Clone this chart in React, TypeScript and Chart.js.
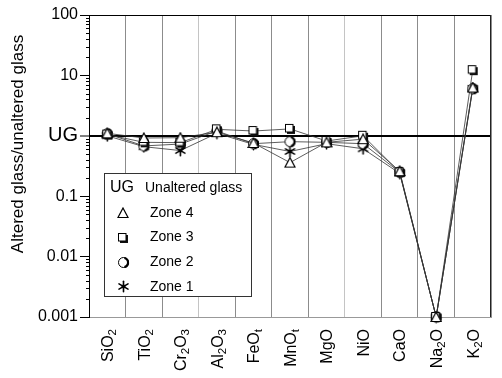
import React, { useEffect, useRef } from 'react';
import { Chart, registerables } from 'chart.js';

Chart.register(...registerables);

// ---------- data ----------
const categories = ['SiO2', 'TiO2', 'Cr2O3', 'Al2O3', 'FeOt', 'MnOt', 'MgO', 'NiO', 'CaO', 'Na2O', 'K2O'];
const zone4 = [1.1, 0.92, 0.93, 1.15, 0.76, 0.36, 0.78, 0.88, 0.26, 0.001, 6.3];
const zone3 = [1.05, 0.78, 0.77, 1.28, 1.2, 1.3, 0.82, 1.0, 0.25, 0.001, 12.2];
const zone2 = [1.08, 0.68, 0.73, 1.2, 0.74, 0.8, 0.78, 0.74, 0.25, 0.001, 6.0];
const zone1 = [1.0, 0.66, 0.57, 1.1, 0.72, 0.55, 0.74, 0.61, 0.24, 0.001, 6.1];
const seriesLabels = ['Zone 4', 'Zone 3', 'Zone 2', 'Zone 1'];
const yTickValues = [0.001, 0.01, 0.1, 1, 10, 100];
const yTickLabels = ['0.001', '0.01', '0.1', 'UG', '10', '100'];
const legendHeader = ['UG', 'Unaltered glass'];
const yTitle = 'Altered glass/unaltered glass';

const FONT = '"Liberation Sans", Arial, Helvetica, sans-serif';

// ---------- marker images ----------
function makeCanvas(w: number, h: number, draw: (g: CanvasRenderingContext2D) => void) {
  const c = document.createElement('canvas');
  c.width = w;
  c.height = h;
  const g = c.getContext('2d')!;
  draw(g);
  return c;
}

function triangleMarker() {
  return makeCanvas(12, 12, (g) => {
    g.beginPath();
    g.moveTo(6, 1);
    g.lineTo(11, 10.5);
    g.lineTo(1, 10.5);
    g.closePath();
    g.fillStyle = '#fff';
    g.fill();
    g.strokeStyle = '#000';
    g.lineWidth = 1.2;
    g.stroke();
  });
}

function squareMarker() {
  return makeCanvas(12, 12, (g) => {
    g.fillStyle = '#111';
    g.fillRect(3, 3, 8, 8);
    g.fillStyle = '#fff';
    g.fillRect(1.5, 1.5, 7.5, 7.5);
    g.strokeStyle = '#000';
    g.lineWidth = 1;
    g.strokeRect(1.5, 1.5, 7.5, 7.5);
  });
}

function circleMarker() {
  return makeCanvas(13, 13, (g) => {
    g.beginPath();
    g.arc(6.5, 6.5, 5, 0, Math.PI * 2);
    g.fillStyle = '#fff';
    g.fill();
    g.strokeStyle = '#000';
    g.lineWidth = 1;
    g.stroke();
    g.beginPath();
    g.arc(6.5, 6.5, 4.6, -Math.PI / 2 + 0.2, Math.PI / 2 - 0.2);
    g.lineWidth = 2.2;
    g.stroke();
  });
}

function starMarker() {
  return makeCanvas(13, 13, (g) => {
    g.strokeStyle = '#000';
    g.lineWidth = 1.6;
    g.lineCap = 'round';
    for (let k = 0; k < 3; k++) {
      const a = Math.PI / 2 + (k * Math.PI) / 3;
      g.beginPath();
      g.moveTo(6.5 + Math.cos(a) * 5.2, 6.5 + Math.sin(a) * 5.2);
      g.lineTo(6.5 - Math.cos(a) * 5.2, 6.5 - Math.sin(a) * 5.2);
      g.stroke();
    }
    g.beginPath();
    g.arc(6.5, 6.5, 2, 0, Math.PI * 2);
    g.fillStyle = '#000';
    g.fill();
  });
}

function splitLabel(lab: string) {
  const parts: { t: string; sub: boolean }[] = [];
  for (let i = 0; i < lab.length; i++) {
    const ch = lab[i];
    const sub = /[0-9]/.test(ch) || (ch === 't' && i === lab.length - 1);
    const last = parts[parts.length - 1];
    if (last && last.sub === sub) last.t += ch;
    else parts.push({ t: ch, sub });
  }
  return parts;
}

const decorPlugin = {
  id: 'decor',
  afterDraw(chart: any) {
    const ctx: CanvasRenderingContext2D = chart.ctx;
    const area = chart.chartArea;
    const ys = chart.scales.y;
    const xs = chart.scales.x;
    ctx.save();

    // top & right frame
    ctx.strokeStyle = '#000';
    ctx.lineWidth = 1;
    ctx.beginPath();
    ctx.moveTo(area.left, Math.round(area.top) + 0.5);
    ctx.lineTo(area.right, Math.round(area.top) + 0.5);
    ctx.stroke();
    ctx.strokeStyle = '#222';
    ctx.beginPath();
    ctx.moveTo(Math.round(area.right) - 0.5, area.top);
    ctx.lineTo(Math.round(area.right) - 0.5, area.bottom);
    ctx.stroke();

    // minor y ticks
    ctx.strokeStyle = '#000';
    for (let d = -3; d < 2; d++) {
      for (let k = 2; k < 10; k++) {
        const v = k * Math.pow(10, d);
        const y = Math.round(ys.getPixelForValue(v)) + 0.5;
        ctx.beginPath();
        ctx.moveTo(area.left - 3, y);
        ctx.lineTo(area.left, y);
        ctx.stroke();
      }
    }

    // y title
    ctx.fillStyle = '#000';
    ctx.font = `17px ${FONT}`;
    ctx.textAlign = 'center';
    ctx.textBaseline = 'middle';
    ctx.translate(18, 144);
    ctx.rotate(-Math.PI / 2);
    ctx.fillText(yTitle, 0, 0);
    ctx.setTransform(1, 0, 0, 1, 0, 0);

    // x category labels with subscripts
    const mainFont = `16px ${FONT}`;
    const subFont = `11.5px ${FONT}`;
    categories.forEach((lab, i) => {
      const x = xs.getPixelForValue(i);
      const parts = splitLabel(lab);
      ctx.save();
      ctx.translate(x, area.bottom + 12);
      ctx.rotate(-Math.PI / 2);
      ctx.textAlign = 'left';
      ctx.textBaseline = 'alphabetic';
      let total = 0;
      parts.forEach((p) => {
        ctx.font = p.sub ? subFont : mainFont;
        total += ctx.measureText(p.t).width;
      });
      let cx = -total;
      parts.forEach((p) => {
        ctx.font = p.sub ? subFont : mainFont;
        ctx.fillText(p.t, cx, p.sub ? 9 : 5.8);
        cx += ctx.measureText(p.t).width;
      });
      ctx.restore();
    });

    // legend box
    const bx = 104.5, by = 173.5, bw = 147, bh = 123;
    ctx.fillStyle = '#fff';
    ctx.fillRect(bx, by, bw, bh);
    ctx.strokeStyle = '#333';
    ctx.lineWidth = 1;
    ctx.strokeRect(bx, by, bw, bh);
    ctx.fillStyle = '#000';
    ctx.textAlign = 'left';
    ctx.textBaseline = 'middle';
    ctx.font = `16px ${FONT}`;
    ctx.fillText(legendHeader[0], 110, 188);
    ctx.font = `14px ${FONT}`;
    ctx.fillText(legendHeader[1], 145, 188);
    chart.data.datasets.forEach((ds: any, i: number) => {
      const y = 213 + i * 24.6;
      const img = ds.pointStyle as HTMLCanvasElement;
      ctx.drawImage(img, Math.round(123 - img.width / 2), Math.round(y - img.height / 2));
      ctx.font = `14px ${FONT}`;
      ctx.fillText(ds.label, 150, y);
    });

    ctx.restore();
  },
};

export default function App() {
  const ref = useRef<HTMLCanvasElement>(null);

  useEffect(() => {
    const canvas = ref.current;
    if (!canvas) return;
    const markers = [triangleMarker(), squareMarker(), circleMarker(), starMarker()];
    const series = [zone4, zone3, zone2, zone1];
    const datasets = series.map((data, i) => ({
      label: seriesLabels[i],
      data,
      borderColor: '#333',
      borderWidth: 0.8,
      pointStyle: markers[i],
      pointRadius: 5,
      backgroundColor: '#fff',
      fill: false,
      tension: 0,
      clip: false as any,
    }));

    const chart = new Chart(canvas, {
      type: 'line',
      data: { labels: categories, datasets },
      options: {
        animation: false,
        responsive: false,
        devicePixelRatio: 1,
        layout: { padding: { top: 15, right: 11, left: 0, bottom: 0 } },
        plugins: { legend: { display: false }, tooltip: { enabled: false } },
        scales: {
          x: {
            type: 'category',
            offset: true,
            afterFit: (s: any) => {
              s.height = 61;
            },
            grid: {
              offset: true,
              drawTicks: false,
              color: (c: any) => (c.index === 3 || c.index === 7 ? '#c4c4c4' : '#8c8c8c'),
              lineWidth: 1,
            },
            border: { color: '#999', width: 1 },
            ticks: { display: false },
          },
          y: {
            type: 'logarithmic',
            min: 0.001,
            max: 100,
            afterFit: (s: any) => {
              s.width = 89;
            },
            afterBuildTicks: (s: any) => {
              s.ticks = yTickValues.map((v) => ({ value: v }));
            },
            border: { color: '#000', width: 1 },
            grid: {
              drawOnChartArea: true,
              color: (c: any) => (c.tick && c.tick.value === 1 ? '#000' : 'rgba(0,0,0,0)'),
              lineWidth: (c: any) => (c.tick && c.tick.value === 1 ? 2 : 1),
              tickColor: '#000',
              tickLength: 9,
              tickWidth: 1,
            },
            ticks: {
              color: '#000',
              padding: 2,
              autoSkip: false,
              font: (c: any) => ({
                family: FONT,
                size: c.tick && c.tick.value === 1 ? 20 : 16,
              }),
              callback: (v: any) => {
                const idx = yTickValues.indexOf(Number(v));
                return idx >= 0 ? yTickLabels[idx] : '';
              },
            },
          },
        },
      },
      plugins: [decorPlugin],
    } as any);

    return () => chart.destroy();
  }, []);

  return (
    <div style={{ position: 'fixed', left: 0, top: 0, width: 502, height: 378, background: '#fff' }}>
      <canvas ref={ref} width={502} height={378} style={{ display: 'block', width: 502, height: 378 }} />
    </div>
  );
}
